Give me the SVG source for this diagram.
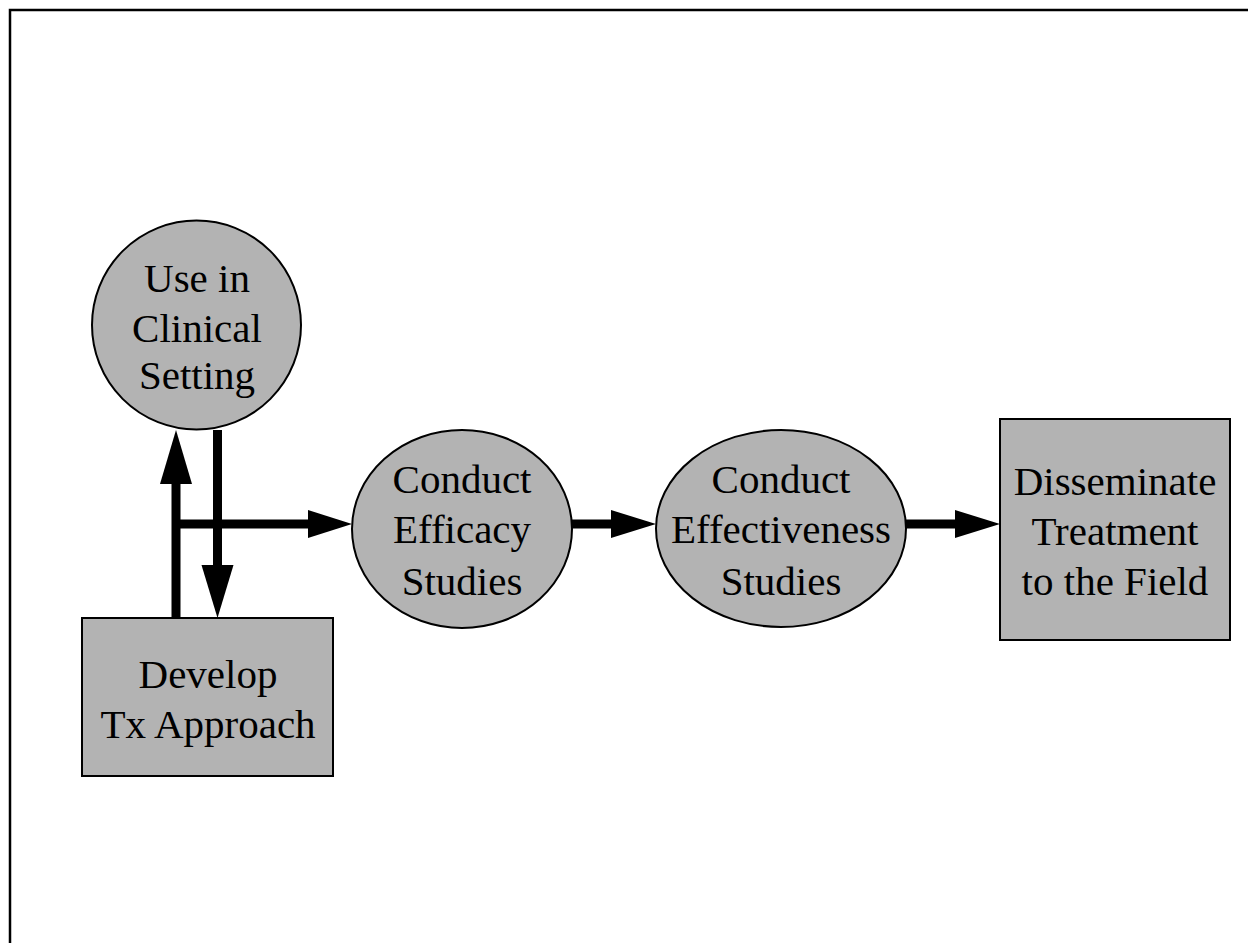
<svg xmlns="http://www.w3.org/2000/svg" width="1248" height="943" viewBox="0 0 1248 943">
<style>
.node{fill:#b3b3b3;stroke:#000;stroke-width:2}
.lbl{font-family:"Liberation Serif","Times New Roman",serif;font-size:41px;fill:#000;text-anchor:middle}
.conn{stroke:#000;stroke-width:9;fill:none}
.head{fill:#000}
</style>
<rect x="0" y="0" width="1248" height="943" fill="#fff"/>
<path d="M10,943 V10 H1248" fill="none" stroke="#000" stroke-width="2.5"/>
<g id="connectors">
<line class="conn" x1="176" y1="618" x2="176" y2="480"/>
<polygon class="head" points="176,430 160,484 192,484"/>
<line class="conn" x1="217.5" y1="430" x2="217.5" y2="570"/>
<polygon class="head" points="217.5,618 201.5,565 233.5,565"/>
<line class="conn" x1="176" y1="524" x2="312" y2="524"/>
<polygon class="head" points="352,524 308,510 308,538"/>
<line class="conn" x1="572" y1="524" x2="615" y2="524"/>
<polygon class="head" points="656,524 611,510 611,538"/>
<line class="conn" x1="906" y1="524" x2="960" y2="524"/>
<polygon class="head" points="1000,524 955,510 955,538"/>
</g>
<g id="use-clinical">
<circle class="node" cx="196.5" cy="325" r="104.5"/>
<text class="lbl" x="197" y="292">Use in</text>
<text class="lbl" x="197" y="342">Clinical</text>
<text class="lbl" x="197" y="389">Setting</text>
</g>
<g id="develop">
<rect class="node" x="82" y="618" width="251" height="158"/>
<text class="lbl" x="208" y="688">Develop</text>
<text class="lbl" x="208" y="738">Tx Approach</text>
</g>
<g id="efficacy">
<ellipse class="node" cx="462" cy="529" rx="110" ry="99"/>
<text class="lbl" x="462" y="493">Conduct</text>
<text class="lbl" x="462" y="543">Efficacy</text>
<text class="lbl" x="462" y="595">Studies</text>
</g>
<g id="effectiveness">
<ellipse class="node" cx="781" cy="528.5" rx="125" ry="98.5"/>
<text class="lbl" x="781" y="493">Conduct</text>
<text class="lbl" x="781" y="543">Effectiveness</text>
<text class="lbl" x="781" y="595">Studies</text>
</g>
<g id="disseminate">
<rect class="node" x="1000" y="419" width="230" height="221"/>
<text class="lbl" x="1115" y="495">Disseminate</text>
<text class="lbl" x="1115" y="545">Treatment</text>
<text class="lbl" x="1115" y="595">to the Field</text>
</g>
</svg>
